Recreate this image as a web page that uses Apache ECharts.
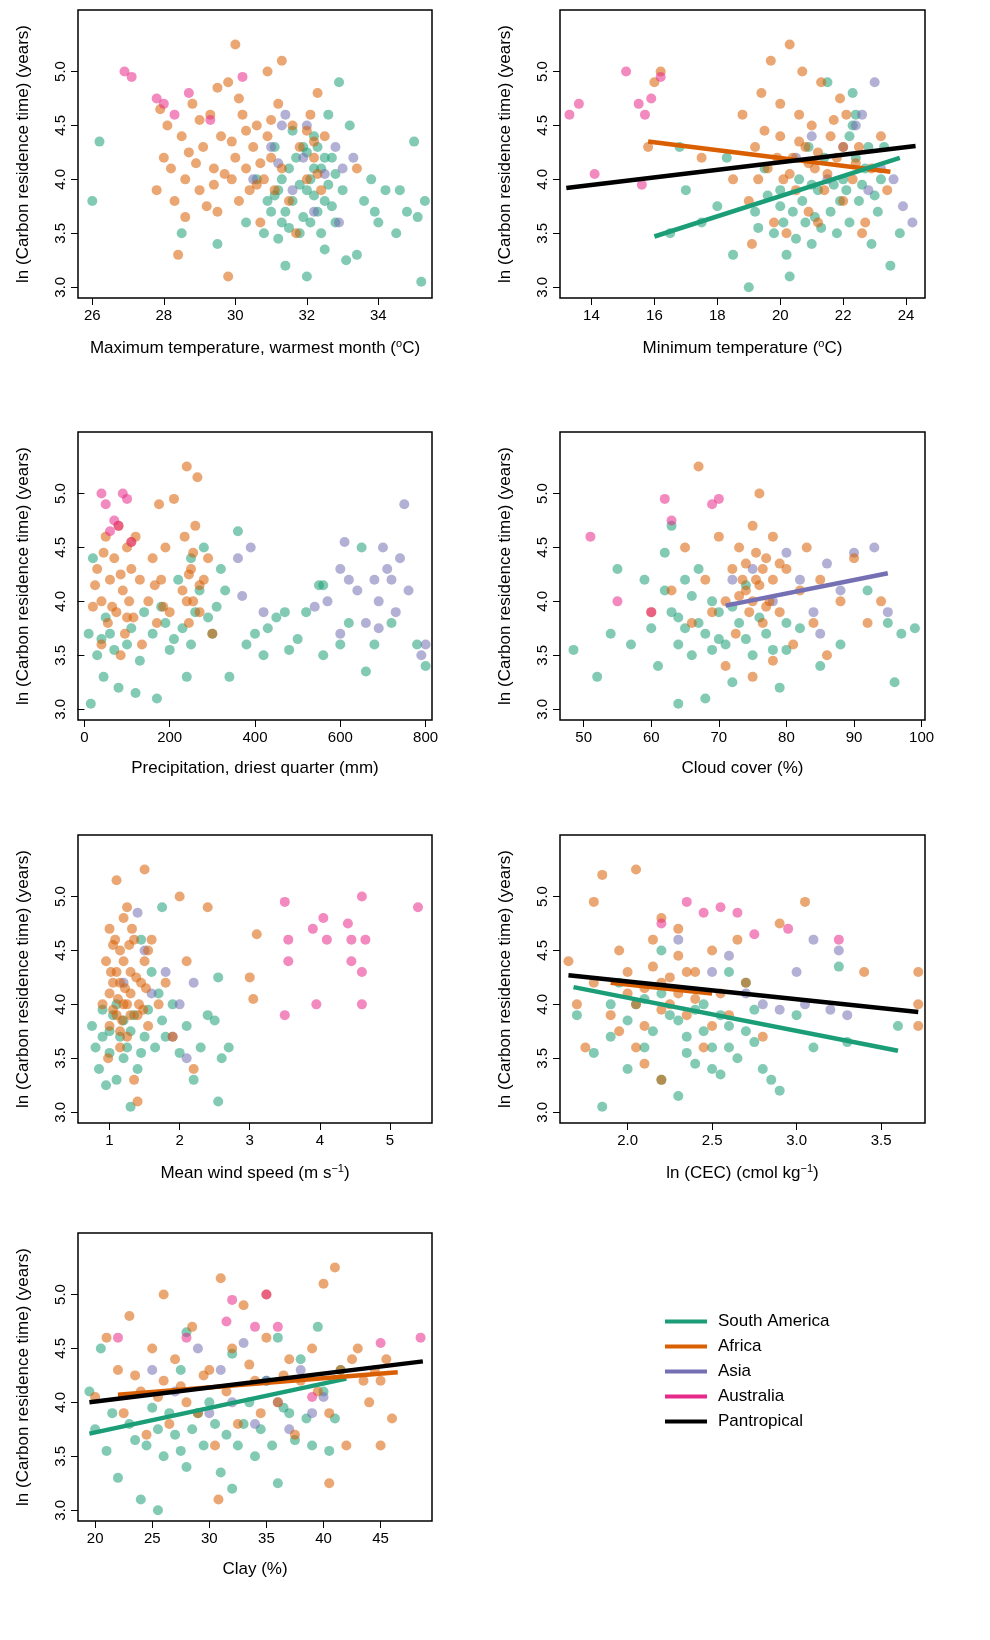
<!DOCTYPE html>
<html>
<head>
<meta charset="utf-8">
<script src="https://cdn.jsdelivr.net/npm/echarts@6/dist/echarts.min.js"></script>
<style>
  html, body { margin: 0; padding: 0; background: #fff; }
  #chart { width: 990px; height: 1640px; }
</style>
</head>
<body>
<div id="chart"></div>
<script>
// 區域名稱與顏色
const regions = ['South America', 'Africa', 'Asia', 'Australia'];
const regionColors = ['#1b9e77', '#d95f02', '#7570b3', '#e7298a'];

// 每個面板的 X 軸標題
const xNames = [
  'Maximum temperature, warmest month ({sup|o}C)',
  'Minimum temperature ({sup|o}C)',
  'Precipitation, driest quarter (mm)',
  'Cloud cover (%)',
  'Mean wind speed (m s{sup|\u22121})',
  'ln (CEC) (cmol kg{sup|\u22121})',
  'Clay (%)'
];
const xRanges = [[25.6, 35.5], [13, 24.6], [-15, 815], [46.5, 100.5], [0.55, 5.6], [1.6, 3.76], [18.5, 49.5]];
const xTicks = [
  [26, 28, 30, 32, 34],
  [14, 16, 18, 20, 22, 24],
  [0, 200, 400, 600, 800],
  [50, 60, 70, 80, 90, 100],
  [1, 2, 3, 4, 5],
  [2.0, 2.5, 3.0, 3.5],
  [20, 25, 30, 35, 40, 45]
];
const yTicks = [3.0, 3.5, 4.0, 4.5, 5.0];

// 散點資料 [x, y]，依面板、區域
const p1SA = [[31,3.7],[31.2,3.9],[31.3,3.6],[31.5,4.1],[31.6,3.8],[31.8,3.5],[31.9,4.3],[32,3.9],[32.1,4.0],[32.2,4.4],[32.3,3.7],[32.4,4.1],[32.5,3.8],[32.6,4.6],[32.7,4.2],[32.8,3.6],[32.9,4.9],[33,3.9],[33.2,4.5],[33.4,3.3],[33.6,3.8],[33.8,4.0],[34,3.6],[34.2,3.9],[34.5,3.5],[34.8,3.7],[35,4.35],[35.2,3.05],[35.3,3.8],[26,3.8],[26.2,4.35],[28.5,3.5],[29.5,3.4],[30.3,3.6],[30.6,4.0],[31.4,3.2],[32,3.1],[33.1,3.25],[31.1,4.3],[30.8,3.5],[32.5,3.35],[33.9,3.7],[34.6,3.9],[35.1,3.65],
  [31.1,3.85],[31.3,4.0],[31.4,3.7],[31.5,3.55],[31.7,4.2],[31.8,3.95],[32.0,4.25],[32.1,3.6],[32.2,4.1],[32.3,4.3],[32.4,3.5],[32.6,3.95],[32.7,3.75],[32.8,4.05],[31.6,4.45],[32.2,3.85],[31.9,3.65],[32.5,4.2],[31.2,3.45],[30.9,3.8]];
const p1AF = [[27.8,3.9],[28,4.2],[28.1,4.5],[28.3,3.8],[28.5,4.4],[28.6,4.0],[28.8,4.7],[29,3.9],[29.1,4.3],[29.3,4.6],[29.4,4.1],[29.5,3.7],[29.6,4.4],[29.8,4.9],[29.9,4.0],[30,5.25],[30,4.2],[30.1,3.8],[30.2,4.6],[30.3,4.1],[30.4,3.9],[30.5,4.3],[30.6,4.5],[30.7,3.6],[30.8,4.0],[30.9,4.4],[31,4.2],[31.1,3.9],[31.2,4.7],[31.3,4.1],[31.5,3.8],[31.6,4.5],[31.8,4.3],[32,4.0],[32.1,4.6],[32.2,4.2],[32.3,4.8],[32.4,3.9],[28.4,3.3],[29.8,3.1],[30.9,5.0],[31.3,5.1],[28.9,4.15],[29.7,4.05],[30.6,3.95],[27.9,4.65],[29.2,3.75],[32.5,4.4],[33.4,4.1],[31.7,3.5],
  [28.2,4.1],[28.7,4.25],[29.0,4.55],[29.4,3.95],[29.9,4.35],[30.3,4.45],[30.7,4.15],[31.0,4.55],[32.2,4.35],[32.3,4.05],[30.1,4.75],[29.5,4.85],[28.6,3.65],[32.0,4.45]];
const p1AS = [[30.5,4.0],[31,4.3],[31.3,4.5],[31.6,3.9],[31.9,4.2],[32.2,3.7],[32.5,4.05],[32.8,4.3],[33,4.1],[33.3,4.2],[31.4,4.6],[32.9,3.6],[32.0,4.5],[31.2,4.15]];
const p1AU = [[26.9,5.0],[27.1,4.95],[27.8,4.75],[28,4.7],[28.3,4.6],[28.7,4.8],[30.2,4.95],[29.3,4.55]];

const p2SA = [[16.5,3.5],[17,3.9],[17.5,3.6],[18,3.75],[18.5,3.3],[19,3.0],[19.2,3.7],[19.5,4.1],[19.8,3.5],[20,3.9],[20.2,3.3],[20.4,3.7],[20.6,4.0],[20.8,3.6],[21,3.4],[21.2,3.9],[21.4,4.2],[21.6,3.7],[21.8,3.5],[22,4.0],[22.2,4.4],[22.3,4.8],[22.5,3.8],[22.7,4.1],[22.9,3.4],[23.1,3.7],[23.3,4.3],[23.5,3.2],[23.8,3.5],[20.3,3.1],[21.5,4.9],[22.4,4.6],[16.8,4.3],[18.3,4.2],[22.1,3.9],[20.9,4.3],
  [19.3,3.55],[19.6,3.85],[20.1,3.6],[20.5,3.45],[20.7,3.8],[21.1,3.65],[21.3,3.55],[21.7,3.95],[21.9,3.8],[22.2,3.6],[22.4,4.2],[22.6,3.95],[22.8,4.3],[23.0,3.85],[23.2,4.0],[21.0,3.95],[20.0,3.75],[22.3,4.5]];
const p2AF = [[15.8,4.3],[16,4.9],[16.2,5.0],[17.5,4.2],[18.5,4.0],[18.8,4.6],[19,3.8],[19.2,4.3],[19.4,4.8],[19.6,4.1],[19.8,3.6],[20,4.4],[20.1,4.0],[20.3,5.25],[20.4,4.2],[20.5,3.9],[20.6,4.6],[20.8,4.3],[20.9,3.7],[21,4.5],[21.1,4.1],[21.3,4.9],[21.4,3.9],[21.6,4.4],[21.8,4.2],[22,3.8],[22.1,4.6],[22.3,4.0],[22.5,4.3],[22.7,3.6],[22.9,4.1],[23.2,4.4],[23.4,3.9],[19.1,3.4],[19.7,5.1],[20.7,5.0],[21.9,4.75],[22.6,3.5],[21.2,3.6],[20.2,3.5],
  [19.5,4.45],[19.9,4.2],[20.3,4.05],[20.6,4.35],[20.9,4.15],[21.2,4.25],[21.5,4.05],[21.7,4.55],[22.0,4.3],[22.4,4.15],[19.3,4.0],[20.0,4.7]];
const p2AS = [[20.5,4.2],[21,4.4],[21.5,4.0],[22,4.3],[22.4,4.5],[22.8,3.9],[23.2,4.1],[23.6,4.0],[23.9,3.75],[24.2,3.6],[23,4.9],[22.6,4.6]];
const p2AU = [[13.3,4.6],[13.6,4.7],[14.1,4.05],[15.1,5.0],[15.5,4.7],[15.7,4.6],[15.9,4.75],[16.2,4.95],[15.6,3.95]];

const p3SA = [[10,3.7],[15,3.05],[20,4.4],[30,3.5],[45,3.3],[60,3.7],[80,3.2],[100,3.6],[120,3.15],[140,3.9],[170,3.1],[200,3.55],[220,4.2],[240,3.3],[260,3.9],[280,4.5],[300,3.7],[320,4.3],[340,3.3],[360,4.65],[380,3.6],[400,3.7],[420,3.5],[450,3.85],[470,3.9],[500,3.65],[520,3.9],[550,4.15],[560,3.5],[600,3.6],[620,3.8],[650,4.5],[660,3.35],[680,3.6],[720,3.8],[780,3.6],[800,3.4],[560,4.15],[480,3.55],[430,3.75],[190,3.8],[330,4.1],
  [50,3.85],[70,3.55],[110,3.75],[130,3.45],[160,3.7],[180,3.95],[210,3.65],[230,3.75],[250,3.6],[270,4.1],[290,3.85],[310,3.95],[250,4.4],[40,3.65]];
const p3AF = [[20,3.95],[30,4.3],[40,4.0],[50,4.6],[55,3.8],[60,4.2],[70,4.4],[75,3.9],[80,4.7],[90,4.1],[95,3.7],[100,4.5],[105,4.0],[110,4.3],[115,3.85],[120,4.6],[130,4.2],[150,4.0],[160,4.4],[170,3.8],[175,4.9],[180,4.2],[190,4.5],[200,3.9],[230,4.1],[235,4.6],[240,5.25],[245,3.8],[250,4.3],[255,4.0],[260,4.7],[265,5.15],[270,3.9],[280,4.2],[290,4.4],[300,3.7],[40,3.6],[85,3.5],[135,3.6],[210,4.95],
  [25,4.15],[45,4.45],[65,3.95],[85,4.25],[100,3.85],[110,4.55],[165,4.15],[185,3.95],[240,4.0],[255,4.45],[270,4.15],[245,4.25]];
const p3AS = [[360,4.4],[370,4.05],[390,4.5],[420,3.9],[540,3.95],[570,4.0],[600,4.3],[610,4.55],[620,4.2],[640,4.1],[660,3.8],[680,4.2],[690,4.0],[700,4.5],[710,4.3],[720,4.2],[730,3.9],[740,4.4],[750,4.9],[760,4.1],[790,3.5],[800,3.6],[690,3.75],[600,3.7]];
const p3AU = [[40,5.0],[50,4.9],[60,4.65],[70,4.75],[80,4.7],[90,5.0],[100,4.95],[110,4.55]];

const p4SA = [[48.5,3.55],[52,3.3],[54,3.7],[55,4.3],[57,3.6],[59,4.2],[60,3.75],[61,3.4],[62,4.45],[63,3.9],[64,3.6],[65,4.2],[66,3.5],[67,3.8],[68,3.1],[69,3.55],[70,3.9],[71,3.6],[73,3.8],[75,3.5],[77,3.7],[79,3.2],[80,3.55],[82,3.75],[85,3.4],[88,3.6],[92,4.1],[95,3.8],[96,3.25],[97,3.7],[99,3.75],[63,4.7],[72,3.25],[64,3.05],
  [62,4.1],[64,3.85],[66,4.05],[68,3.7],[70,3.65],[72,3.95],[74,3.65],[76,3.85],[78,3.55],[80,3.8],[65,3.75],[67,4.3],[69,4.0],[74,4.15]];
const p4AF = [[60,3.9],[63,4.1],[65,4.5],[66,3.8],[67,5.25],[68,4.2],[69,3.9],[70,4.6],[71,4.0],[72,4.3],[72.5,3.7],[73,4.5],[74,4.1],[74.5,3.9],[75,4.7],[75.5,4.2],[76,5.0],[76.5,3.8],[77,4.4],[77.5,4.0],[78,4.6],[79,3.9],[80,4.3],[81,3.6],[82,4.1],[83,4.5],[84,3.8],[85,4.2],[86,3.5],[88,4.0],[90,4.4],[92,3.8],[94,4.0],[75,3.3],[71,3.4],[78,3.45],
  [73,4.05],[74,4.35],[75,4.0],[75.5,4.45],[76,4.15],[76.5,4.3],[77,3.95],[78,4.2],[79,4.35],[73.5,4.2]];
const p4AS = [[72,4.2],[75,4.3],[78,4.0],[80,4.45],[82,4.2],[84,3.9],[86,4.35],[88,4.1],[90,4.45],[93,4.5],[85,3.7],[95,3.9]];
const p4AU = [[51,4.6],[55,4.0],[62,4.95],[63,4.75],[69,4.9],[70,4.95],[60,3.9]];

const p5SA = [[0.75,3.8],[0.8,3.6],[0.85,3.4],[0.9,3.7],[0.95,3.25],[1.0,3.55],[1.05,3.9],[1.1,3.3],[1.2,3.5],[1.3,3.05],[1.4,3.4],[1.5,3.7],[1.6,4.3],[1.7,4.1],[1.8,3.7],[1.9,4.0],[2.0,3.55],[2.1,3.8],[2.2,3.3],[2.3,3.6],[2.4,3.9],[2.5,3.85],[2.55,3.1],[2.6,3.5],[2.7,3.6],[2.55,4.25],[1.75,4.9],[1.45,4.6],[0.9,3.95],[1.15,3.7],
  [1.0,3.75],[1.1,4.0],[1.2,3.85],[1.25,3.6],[1.3,3.75],[1.35,3.9],[1.45,3.55],[1.55,3.95],[1.65,3.6],[1.75,3.85]];
const p5AF = [[0.9,4.0],[0.95,4.4],[1.0,3.8],[1.0,4.7],[1.05,4.2],[1.1,3.9],[1.1,5.15],[1.15,4.5],[1.2,4.0],[1.2,4.8],[1.25,3.7],[1.3,4.3],[1.3,4.1],[1.35,4.6],[1.4,3.9],[1.45,4.2],[1.5,5.25],[1.5,4.4],[1.55,3.8],[1.6,4.6],[1.7,4.0],[1.8,4.2],[1.9,3.7],[2.0,5.0],[2.1,4.4],[2.2,3.4],[2.4,4.9],[3.0,4.25],[3.05,4.05],[3.1,4.65],[1.15,3.6],[1.35,3.3],[1.4,3.1],[0.98,3.5],[1.25,4.9],[1.05,4.55],
  [1.0,4.1],[1.05,3.95],[1.1,4.3],[1.12,4.05],[1.15,4.2],[1.18,3.85],[1.2,4.4],[1.22,4.15],[1.25,4.0],[1.28,4.55],[1.3,3.9],[1.32,4.7],[1.38,4.25],[1.42,4.0],[1.48,3.95],[1.52,4.15],[1.55,4.5],[1.08,4.6],[1.02,4.3],[1.15,3.75]];
const p5AS = [[1.2,4.2],[1.4,4.85],[1.5,4.5],[1.6,4.1],[1.8,4.3],[1.9,3.7],[2.0,4.0],[2.1,3.5],[2.2,4.2]];
const p5AU = [[3.5,4.95],[3.55,4.6],[3.55,4.4],[3.5,3.9],[3.95,4.0],[3.9,4.7],[4.05,4.8],[4.1,4.6],[4.4,4.75],[4.45,4.4],[4.45,4.6],[4.6,5.0],[4.6,4.3],[4.6,4.0],[4.65,4.6],[5.4,4.9]];

const p6SA = [[1.7,3.9],[1.8,3.55],[1.85,3.05],[1.9,3.7],[2.0,3.4],[2.05,4.0],[2.1,3.6],[2.2,3.3],[2.25,3.9],[2.3,3.15],[2.35,3.7],[2.4,3.45],[2.45,4.0],[2.5,3.6],[2.55,3.35],[2.6,3.8],[2.65,3.5],[2.7,4.2],[2.75,3.65],[2.8,3.4],[2.85,3.3],[2.9,3.2],[3.0,3.9],[3.1,3.6],[3.25,4.35],[3.3,3.65],[3.6,3.8],[2.2,4.5],[2.6,4.3],[1.95,4.2],
  [2.0,3.85],[2.1,4.05],[2.15,3.75],[2.3,3.85],[2.35,3.55],[2.4,3.95],[2.45,3.75],[2.5,3.4],[2.55,3.9],[2.6,3.6],[2.7,3.75],[2.75,3.95],[2.2,4.1],[1.9,4.0]];
const p6AF = [[1.65,4.4],[1.7,4.0],[1.75,3.6],[1.8,4.2],[1.85,5.2],[1.9,3.9],[1.95,4.5],[2.0,4.1],[2.05,5.25],[2.1,3.8],[2.15,4.6],[2.2,4.2],[2.25,4.0],[2.3,4.7],[2.35,3.9],[2.4,4.3],[2.45,3.6],[2.5,4.5],[2.55,4.1],[2.6,3.9],[2.65,4.6],[2.7,4.2],[2.8,3.7],[2.9,4.75],[3.05,4.95],[3.4,4.3],[3.72,4.3],[3.72,3.8],[3.72,4.0],[2.2,3.3],[2.1,3.45],[1.8,4.95],[2.3,4.45],[2.5,3.8],[1.95,3.75],
  [2.0,4.3],[2.05,4.0],[2.1,4.15],[2.15,4.35],[2.2,3.95],[2.25,4.25],[2.3,4.1],[2.35,4.3],[2.4,4.05],[2.2,4.8],[2.05,3.6]];
const p6AS = [[2.3,4.6],[2.5,4.3],[2.6,4.45],[2.7,4.1],[2.8,4.0],[2.9,3.95],[3.0,4.3],[3.05,4.0],[3.1,4.6],[3.2,3.95],[3.25,4.5],[3.3,3.9]];
const p6AU = [[2.2,4.75],[2.35,4.95],[2.45,4.85],[2.55,4.9],[2.65,4.85],[2.75,4.65],[2.95,4.7],[3.25,4.6]];

const p7SA = [[19.5,4.1],[20,3.75],[20.5,4.5],[21,3.55],[22,3.3],[23,3.8],[24,3.1],[24.5,3.6],[25,3.95],[25.5,3.0],[26,3.5],[27,3.7],[27.5,4.3],[28,3.4],[29,3.9],[29.5,3.6],[30,4.0],[31,3.35],[31.5,3.7],[32,3.2],[33,3.8],[34,3.5],[35,4.2],[35.5,3.6],[36,3.25],[37,3.9],[38,4.4],[39,3.6],[40,4.1],[40.5,3.55],[41,3.85],[28,4.65],[32,4.45],[36,4.6],[39.5,4.7],
  [21.5,3.9],[23.5,3.65],[25.5,3.75],[26.5,3.9],[27.5,3.55],[28.5,3.75],[30.5,3.8],[32.5,3.6],[33.5,4.0],[34.5,3.75],[36.5,3.95],[37.5,3.65],[38.5,3.85],[41.5,4.3]];
const p7AF = [[20,4.05],[21,4.6],[22,4.3],[22.5,3.9],[23,4.8],[24,4.1],[24.5,3.7],[25,4.5],[26,4.2],[26.5,3.8],[27,4.4],[28,4.0],[28.5,4.7],[29,3.9],[30,4.3],[30.5,3.6],[31,5.15],[31.5,4.1],[32,4.5],[32.5,3.8],[33,4.9],[34,4.2],[34.5,3.9],[35,4.6],[36,4.0],[37,4.4],[37.5,3.7],[38,4.2],[39,4.5],[40,5.1],[40.5,3.9],[41,5.25],[41.5,4.3],[42,3.6],[43,4.5],[44,4.0],[44.5,4.3],[45,3.6],[45.5,4.4],[46,3.85],[30.8,3.1],[40.5,3.25],[26,5.0],[35,5.0],
  [23.5,4.25],[25.5,4.05],[27.5,4.15],[29.5,4.25],[33.5,4.35],[36.5,4.25],[39.5,4.1],[42.5,4.4],[43.5,4.2],[45,4.2]];
const p7AS = [[25,4.3],[27,4.1],[29,4.5],[30,3.9],[31,4.3],[32,4.0],[33,4.55],[34,3.8],[35,4.2],[36,4.0],[37,3.75],[38,4.3],[39,3.9],[40,4.05]];
const p7AU = [[22,4.6],[28,4.6],[31.5,4.75],[32,4.95],[34,4.7],[35,5.0],[36,4.7],[39,4.05],[45,4.55],[48.5,4.6]];

const points = [
  [p1SA, p1AF, p1AS, p1AU],
  [p2SA, p2AF, p2AS, p2AU],
  [p3SA, p3AF, p3AS, p3AU],
  [p4SA, p4AF, p4AS, p4AU],
  [p5SA, p5AF, p5AS, p5AU],
  [p6SA, p6AF, p6AS, p6AU],
  [p7SA, p7AF, p7AS, p7AU]
];

// 迴歸線（端點讀自圖）：[面板, 名稱, 端點]
const fitLines = [
  [1, 'Africa', [[15.8, 4.35], [23.5, 4.07]]],
  [1, 'South America', [[16.0, 3.47], [23.8, 4.2]]],
  [1, 'Pantropical', [[13.2, 3.92], [24.3, 4.31]]],
  [3, 'Asia', [[71, 3.96], [95, 4.26]]],
  [5, 'South America', [[1.68, 4.16], [3.6, 3.57]]],
  [5, 'Africa', [[1.9, 4.2], [2.5, 4.1]]],
  [5, 'Pantropical', [[1.65, 4.27], [3.72, 3.93]]],
  [6, 'South America', [[19.5, 3.71], [42, 4.22]]],
  [6, 'Africa', [[22, 4.07], [46.5, 4.28]]],
  [6, 'Pantropical', [[19.5, 4.0], [48.7, 4.38]]]
];

const FONT = 'Liberation Sans';
const colLeft = [78, 560];
const colWidth = [354, 365];
const rowTop = [10, 432, 835, 1233];
const rowHeight = 288;

const grids = [], xAxes = [], yAxes = [], series = [];
for (let i = 0; i < 7; i++) {
  const c = i % 2, r = Math.floor(i / 2);
  grids.push({
    left: colLeft[c], top: rowTop[r], width: colWidth[c], height: rowHeight,
    show: true, borderColor: '#000', borderWidth: 1.5, backgroundColor: 'transparent'
  });
  xAxes.push({
    gridIndex: i, type: 'value', min: xRanges[i][0], max: xRanges[i][1],
    splitLine: { show: false }, axisLine: { show: false },
    axisTick: { show: true, length: 7, lineStyle: { color: '#000' }, customValues: xTicks[i] },
    axisLabel: { color: '#000', fontSize: 15, fontFamily: FONT, margin: 10, customValues: xTicks[i],
      formatter: v => (i === 5 ? v.toFixed(1) : String(v)) },
    name: xNames[i], nameLocation: 'middle', nameGap: 40,
    nameTextStyle: { color: '#000', fontSize: 17, fontFamily: FONT,
      rich: { sup: { fontSize: 11, verticalAlign: 'top', padding: [0, 0, 10, 0], fontFamily: FONT, color: '#000' } } }
  });
  yAxes.push({
    gridIndex: i, type: 'value', min: 2.9, max: 5.57,
    splitLine: { show: false }, axisLine: { show: false },
    axisTick: { show: true, length: 7, lineStyle: { color: '#000' }, customValues: yTicks },
    axisLabel: { color: '#000', fontSize: 15, fontFamily: FONT, rotate: 90, margin: 10, customValues: yTicks,
      formatter: v => v.toFixed(1) },
    name: 'ln (Carbon residence time) (years)', nameLocation: 'middle', nameGap: 46,
    nameTextStyle: { color: '#000', fontSize: 17, fontFamily: FONT }
  });
  [0, 2, 1, 3].forEach(k => {
    series.push({
      name: regions[k], type: 'scatter', xAxisIndex: i, yAxisIndex: i,
      data: points[i][k], symbolSize: 10,
      itemStyle: { color: regionColors[k], opacity: 0.55 },
      emphasis: { disabled: true }
    });
  });
}

fitLines.forEach(([i, name, pts]) => {
  const k = regions.indexOf(name);
  series.push({
    name: name, type: 'line', xAxisIndex: i, yAxisIndex: i, data: pts,
    showSymbol: false, symbol: 'none', z: 5,
    lineStyle: { width: 4.5, color: k >= 0 ? regionColors[k] : '#000' },
    itemStyle: { color: k >= 0 ? regionColors[k] : '#000' }
  });
});

const chart = echarts.init(document.getElementById('chart'), null, { renderer: 'canvas' });
chart.setOption({
  animation: false,
  backgroundColor: '#fff',
  grid: grids, xAxis: xAxes, yAxis: yAxes, series: series,
  legend: {
    orient: 'vertical', left: 660, top: 1308, itemGap: 8,
    icon: 'rect', itemWidth: 42, itemHeight: 4,
    data: ['South America', 'Africa', 'Asia', 'Australia', 'Pantropical'],
    itemStyle: { opacity: 1 },
    textStyle: { color: '#000', fontSize: 17, fontFamily: FONT, padding: [0, 0, 0, 6] },
    selectedMode: false
  }
});
</script>
</body>
</html>
